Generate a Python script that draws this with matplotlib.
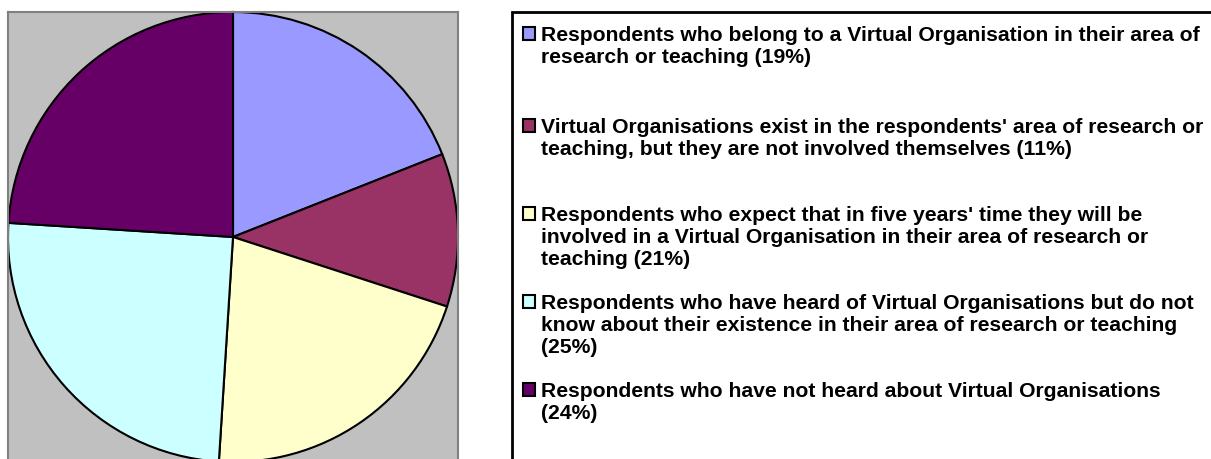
import matplotlib
matplotlib.use("Agg")
import matplotlib.pyplot as plt
from matplotlib.patches import Rectangle

categories = [
    "Respondents who belong to a Virtual Organisation in their area of\nresearch or teaching (19%)",
    "Virtual Organisations exist in the respondents' area of research or\nteaching, but they are not involved themselves (11%)",
    "Respondents who expect that in five years' time they will be\ninvolved in a Virtual Organisation in their area of research or\nteaching (21%)",
    "Respondents who have heard of Virtual Organisations but do not\nknow about their existence in their area of research or teaching\n(25%)",
    "Respondents who have not heard about Virtual Organisations\n(24%)",
]
values = [19, 11, 21, 25, 24]
colors = ["#9999FF", "#993366", "#FFFFCC", "#CCFFFF", "#660066"]

W, H = 1211, 460
fig = plt.figure(figsize=(W / 100, H / 100), dpi=100)
fig.patch.set_facecolor("white")

# plot area (gray)
ax = fig.add_axes([8 / W, (H - 463) / H, 450 / W, 450 / H])
ax.pie(values, colors=colors, startangle=90, counterclock=False, radius=1.0,
       frame=True, wedgeprops=dict(edgecolor="black", linewidth=1.5))
ax.set_facecolor("#C0C0C0")
for s in ax.spines.values():
    s.set_color("#808080")
    s.set_linewidth(1.5)
ax.set_xticks([])
ax.set_yticks([])
ax.set_xlim(-1.0, 1.0)
ax.set_ylim(-1.0, 1.0)
ax.set_aspect("auto")

# legend box
fig.patches.append(Rectangle((512 / W, -0.05), (W - 512 + 10) / W, (H - 13) / H + 0.05,
                             transform=fig.transFigure, facecolor="white",
                             edgecolor="black", linewidth=2, zorder=0))

baselines = [41, 133, 221, 309, 397]
line_gap = 22
for label, col, by in zip(categories, colors, baselines):
    fig.patches.append(Rectangle((523 / W, (H - by) / H), 12 / W, 13 / H,
                                 transform=fig.transFigure, facecolor=col,
                                 edgecolor="black", linewidth=1.5, zorder=2))
    for i, line in enumerate(label.split("\n")):
        fig.text(541 / W, (H - by - i * line_gap) / H, line, ha="left", va="baseline",
                 fontsize=15.2, fontweight="bold", family="Liberation Sans",
                 color="black")

fig.savefig("out.png", dpi=100)
